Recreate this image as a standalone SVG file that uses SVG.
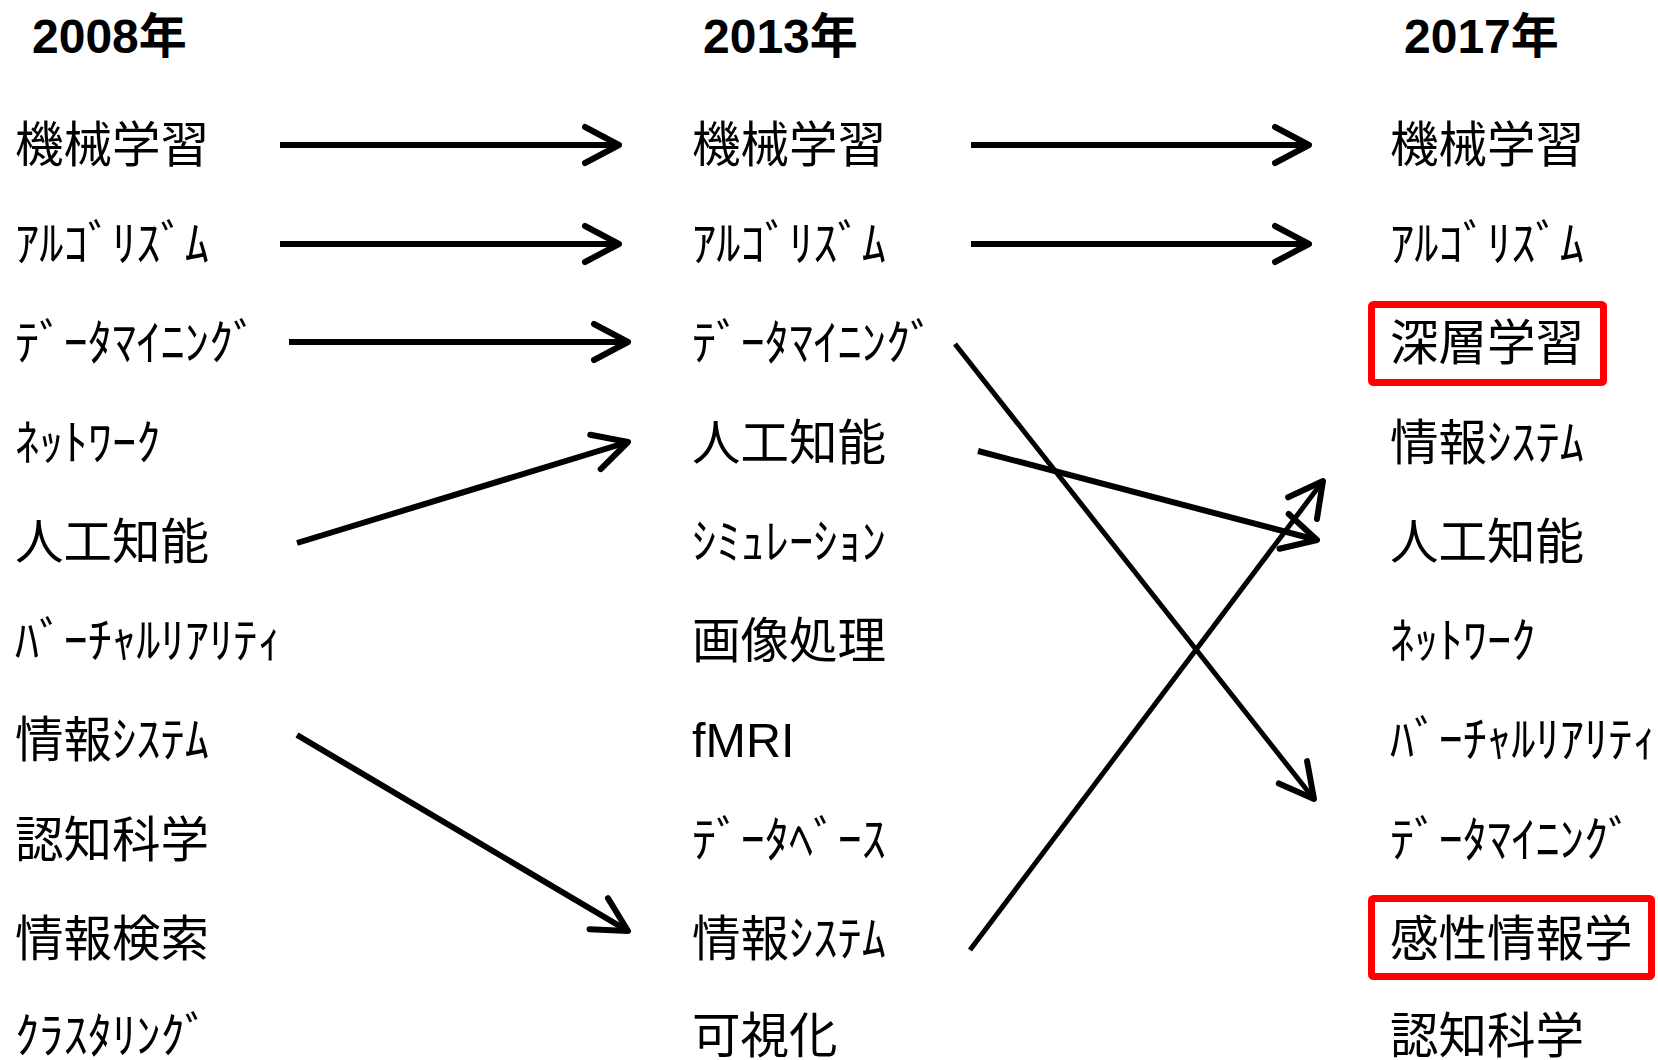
<svg xmlns="http://www.w3.org/2000/svg" width="1658" height="1060" viewBox="0 0 1658 1060">
<style>
text{font-family:"Liberation Sans","Noto Sans CJK JP",sans-serif;fill:#000}
.h{font-size:48px;font-weight:700}
.t{font-size:48.5px}
.c line{stroke:#000;stroke-width:6;marker-end:url(#ah)}
.c line.d{stroke-width:5}
.box{fill:none;stroke:#ff0000;stroke-width:7}
</style>
<defs>
<marker id="ah" markerUnits="userSpaceOnUse" markerWidth="60" markerHeight="60" refX="0" refY="0" orient="auto" overflow="visible">
<path d="M-34,-18 L0,0 L-34,18" fill="none" stroke="#000" stroke-width="6" stroke-linecap="round" stroke-linejoin="round"/>
</marker>
</defs>
<rect width="1658" height="1060" fill="#fff"/>
<g id="headers">
<text class="h" x="32" y="53">2008年</text>
<text class="h" x="703" y="53">2013年</text>
<text class="h" x="1404" y="53">2017年</text>
</g>
<g id="col2008">
<g id="l0"><text class="t" x="15" y="162">機械学習</text></g>
<g id="l1"><text class="t" x="15" y="261">ｱﾙｺﾞﾘｽﾞﾑ</text></g>
<g id="l2"><text class="t" x="15" y="360">ﾃﾞｰﾀﾏｲﾆﾝｸﾞ</text></g>
<g id="l3"><text class="t" x="15" y="460">ﾈｯﾄﾜｰｸ</text></g>
<g id="l4"><text class="t" x="15" y="559">人工知能</text></g>
<g id="l5"><text class="t" x="15" y="658">ﾊﾞｰﾁｬﾙﾘｱﾘﾃｨ</text></g>
<g id="l6"><text class="t" x="15" y="757">情報ｼｽﾃﾑ</text></g>
<g id="l7"><text class="t" x="15" y="857">認知科学</text></g>
<g id="l8"><text class="t" x="15" y="956">情報検索</text></g>
<g id="l9"><text class="t" x="15" y="1053">ｸﾗｽﾀﾘﾝｸﾞ</text></g>
</g>
<g id="col2013">
<g id="m0"><text class="t" x="692" y="162">機械学習</text></g>
<g id="m1"><text class="t" x="692" y="261">ｱﾙｺﾞﾘｽﾞﾑ</text></g>
<g id="m2"><text class="t" x="692" y="360">ﾃﾞｰﾀﾏｲﾆﾝｸﾞ</text></g>
<g id="m3"><text class="t" x="692" y="460">人工知能</text></g>
<g id="m4"><text class="t" x="692" y="559">ｼﾐｭﾚｰｼｮﾝ</text></g>
<g id="m5"><text class="t" x="692" y="658">画像処理</text></g>
<g id="m6"><text class="t" x="692" y="757">fMRI</text></g>
<g id="m7"><text class="t" x="692" y="857">ﾃﾞｰﾀﾍﾞｰｽ</text></g>
<g id="m8"><text class="t" x="692" y="956">情報ｼｽﾃﾑ</text></g>
<g id="m9"><text class="t" x="692" y="1053">可視化</text></g>
</g>
<g id="col2017">
<g id="r0"><text class="t" x="1390" y="162">機械学習</text></g>
<g id="r1"><text class="t" x="1390" y="261">ｱﾙｺﾞﾘｽﾞﾑ</text></g>
<g id="r2"><rect class="box" x="1371.5" y="304.5" width="232" height="78" rx="2"/><text class="t" x="1390" y="360">深層学習</text></g>
<g id="r3"><text class="t" x="1390" y="460">情報ｼｽﾃﾑ</text></g>
<g id="r4"><text class="t" x="1390" y="559">人工知能</text></g>
<g id="r5"><text class="t" x="1390" y="658">ﾈｯﾄﾜｰｸ</text></g>
<g id="r6"><text class="t" x="1390" y="757">ﾊﾞｰﾁｬﾙﾘｱﾘﾃｨ</text></g>
<g id="r7"><text class="t" x="1390" y="857">ﾃﾞｰﾀﾏｲﾆﾝｸﾞ</text></g>
<g id="r8"><rect class="box" x="1371.5" y="898.5" width="280" height="78" rx="2"/><text class="t" x="1390" y="956">感性情報学</text></g>
<g id="r9"><text class="t" x="1390" y="1053">認知科学</text></g>
</g>
<g id="connectors" class="c">
<line x1="280" y1="145" x2="619" y2="145"/>
<line x1="280" y1="244" x2="619" y2="244"/>
<line x1="289" y1="342" x2="628" y2="342"/>
<line x1="297" y1="543" x2="628" y2="442"/>
<line x1="297" y1="735" x2="628" y2="931"/>
<line x1="971" y1="145" x2="1309" y2="145"/>
<line x1="971" y1="244" x2="1309" y2="244"/>
<line class="d" x1="955" y1="344" x2="1314" y2="799"/>
<line x1="978" y1="451" x2="1317" y2="540"/>
<line class="d" x1="970" y1="950" x2="1323" y2="481"/>
</g>
</svg>
